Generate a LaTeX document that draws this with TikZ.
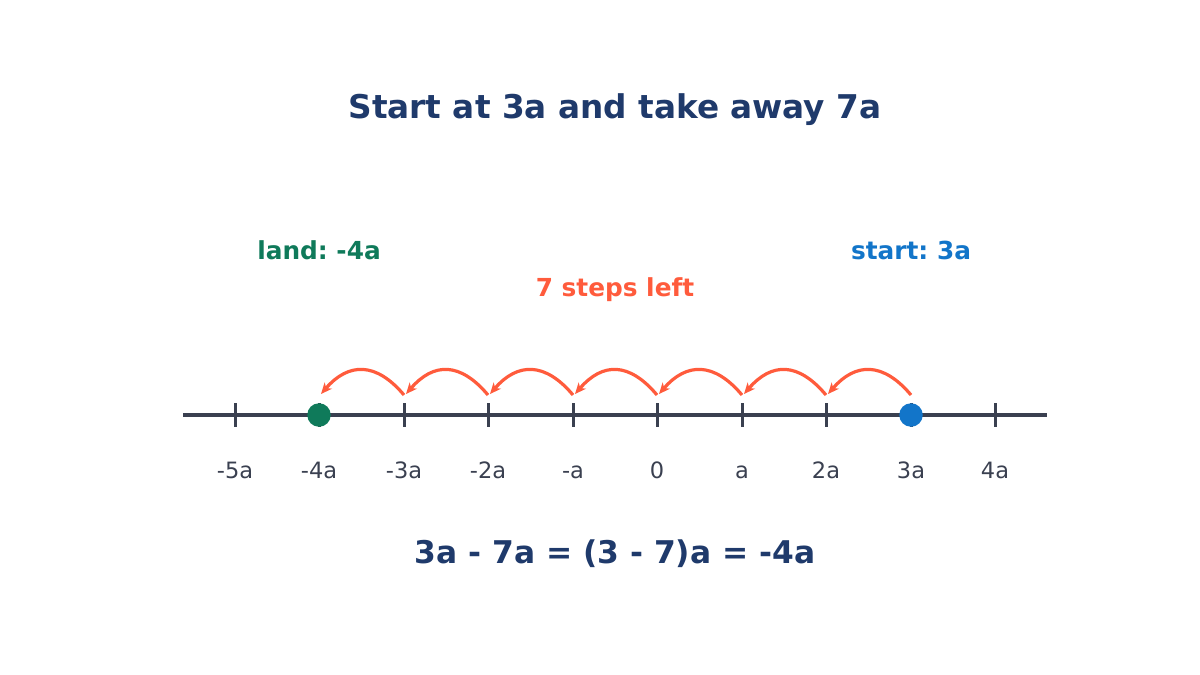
\documentclass[tikz,border=0pt]{standalone}
\usepackage{fontspec}
\setmainfont{DejaVu Sans}
\usetikzlibrary{arrows.meta}
\frenchspacing
\definecolor{navy}{HTML}{1F3A6B}
\definecolor{axisgray}{HTML}{3A4050}
\definecolor{landgreen}{HTML}{0F7A5A}
\definecolor{startblue}{HTML}{1275C9}
\definecolor{steporange}{HTML}{FF5B3C}
\tikzset{
  titletext/.style={anchor=base, text=navy, font=\fontsize{32.7}{38}\selectfont\bfseries, inner sep=0pt},
  eqtext/.style={anchor=base, text=navy, font=\fontsize{31.3}{36}\selectfont\bfseries, inner sep=0pt},
  ticklabel/.style={anchor=base, text=axisgray, font=\fontsize{22.5}{26}\selectfont, inner sep=0pt},
  sidelabel/.style={anchor=base, font=\fontsize{24.8}{30}\selectfont\bfseries, inner sep=0pt},
  axisline/.style={draw=axisgray, line width=3.4pt},
  tickmark/.style={draw=axisgray, line width=3pt},
  dotmark/.style={circle, minimum size=23.5pt, inner sep=0pt},
  hop/.style={draw=steporange, line width=3.2pt, -{Stealth[length=11pt,width=9.5pt,inset=3pt]}},
}
\begin{document}
\begin{tikzpicture}[x=1pt,y=-1pt]
\useasboundingbox (0,0) rectangle (1200,675);
% title
\node[titletext] (title) at (615,118) {Start at 3a and take away 7a};
% axis
\coordinate (axL) at (183,415);
\coordinate (axR) at (1047,415);
\draw[axisline] (axL) -- (axR);
% ticks and labels
\foreach \i/\x/\lab in {0/235/-5a,1/319/-4a,2/404/-3a,3/488/-2a,4/573/-a,5/657/0,6/742/a,7/826/2a,8/911/3a,9/995/4a}{
  \coordinate (tk\i) at (\x,415);
  \draw[tickmark] (\x,403) -- (\x,427);
  \node[ticklabel] (lab\i) at (\x,478.5) {\lab};
}
% dots
\node[dotmark, fill=landgreen] (land) at (tk1) {};
\node[dotmark, fill=startblue] (start) at (tk8) {};
% hops
\foreach \i [evaluate=\i as \j using int(\i-1)] in {8,7,6,5,4,3,2}{
  \draw[hop] ([shift={(0,-20)}]tk\i)
     .. controls ([shift={(-27.7,-53)}]tk\i) and ([shift={(29.7,-53)}]tk\j)
     .. ([shift={(2,-21)}]tk\j);
}
% labels
\node[sidelabel, text=landgreen] (landlab) at (319,259.5) {land: -4a};
\node[sidelabel, text=startblue] (startlab) at (911,259.5) {start: 3a};
\node[sidelabel, text=steporange] (steplab) at (615,296) {7 steps left};
% equation
\node[eqtext] (eq) at (615,563.5) {3a - 7a = (3 - 7)a = -4a};
\end{tikzpicture}
\end{document}
